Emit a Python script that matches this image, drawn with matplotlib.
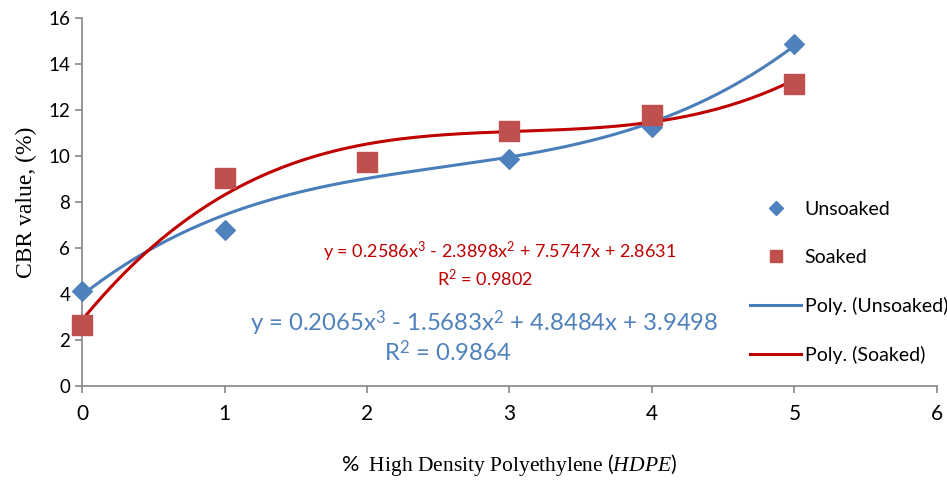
import numpy as np
import matplotlib
matplotlib.use("Agg")
import matplotlib.pyplot as plt
from matplotlib.lines import Line2D

# data
hdpe = [0, 1, 2, 3, 4, 5]
unsoaked = [4.13, 6.8, 9.75, 9.87, 11.25, 14.87]
soaked = [2.65, 9.05, 9.75, 11.1, 11.8, 13.15]

# trend-line coefficients as printed on the chart (x^3, x^2, x, 1)
poly_unsoaked = [0.2065, -1.5683, 4.8484, 3.9498]
poly_soaked = [0.2586, -2.3898, 7.5747, 2.8631]

eq_unsoaked = "y = 0.2065x$^3$ - 1.5683x$^2$ + 4.8484x + 3.9498"
r2_unsoaked = "R$^2$ = 0.9864"
eq_soaked = "y = 0.2586x$^3$ - 2.3898x$^2$ + 7.5747x + 2.8631"
r2_soaked = "R$^2$ = 0.9802"

plt.rcParams["mathtext.fontset"] = "custom"
plt.rcParams["mathtext.rm"] = "Lato"
plt.rcParams["mathtext.it"] = "Liberation Serif:italic"

sans = ["Lato", "DejaVu Sans"]
serif = ["Liberation Serif", "DejaVu Serif"]

blue_mk = "#4F81BD"
red_mk = "#C0504D"
blue_ln = "#4A7EBB"
red_ln = "#C00000"

fig = plt.figure(figsize=(9.47, 4.83), dpi=100)
ax = fig.add_axes([0.0866, 0.2008, 0.9028, 0.7619])

xs = np.linspace(0, 5, 200)
ax.plot(xs, np.polyval(poly_unsoaked, xs), color=blue_ln, lw=2.2, zorder=2)
ax.plot(xs, np.polyval(poly_soaked, xs), color=red_ln, lw=2.2, zorder=2)
ax.scatter(hdpe, unsoaked, marker="D", s=100, color=blue_mk, zorder=3, clip_on=False)
ax.scatter(hdpe, soaked, marker="s", s=220, color=red_mk, zorder=4, clip_on=False)

ax.set_xlim(0, 6)
ax.set_ylim(0, 16)
ax.set_xticks(range(0, 7))
ax.set_yticks(range(0, 17, 2))
for s in ["top", "right"]:
    ax.spines[s].set_visible(False)
for s in ["left", "bottom"]:
    ax.spines[s].set_color("#868686")
    ax.spines[s].set_linewidth(1.2)
ax.tick_params(colors="#868686", length=5, width=1.2)
for lab in ax.get_xticklabels():
    lab.set_fontfamily(sans)
    lab.set_fontsize(15)
    lab.set_color("black")
for lab in ax.get_yticklabels():
    lab.set_fontfamily(sans)
    lab.set_fontsize(13.5)
    lab.set_color("black")
ax.tick_params(axis="x", pad=8)

ax.set_ylabel("CBR value, (%)", family=serif, fontsize=17, labelpad=8)
ax.set_xlabel("$\\it{\\%}$  High Density Polyethylene $\\it{(HDPE)}$", family=serif,
              fontsize=15.5, labelpad=20)

ax.text(2.93, 5.82, eq_soaked, color=red_ln, family=sans, fontsize=13, ha="center", va="center")
ax.text(2.83, 4.68, r2_soaked, color=red_ln, family=sans, fontsize=13, ha="center", va="center")
ax.text(2.82, 2.74, eq_unsoaked, color=blue_mk, family=sans, fontsize=17.2, ha="center", va="center")
ax.text(2.57, 1.5, r2_unsoaked, color=blue_mk, family=sans, fontsize=17.2, ha="center", va="center")

handles = [
    Line2D([], [], ls="none", marker="D", color=blue_mk, markersize=7),
    Line2D([], [], ls="none", marker="s", color=red_mk, markersize=9),
    Line2D([], [], color=blue_ln, lw=2.2),
    Line2D([], [], color=red_ln, lw=2.2),
]
labels = ["Unsoaked", "Soaked", "Poly. (Unsoaked)", "Poly. (Soaked)"]
fig.legend(handles, labels, loc="center left", bbox_to_anchor=(0.782, 0.415),
           frameon=False, prop={"family": sans, "size": 14},
           labelspacing=1.6, handlelength=2.6, handletextpad=0.2, borderpad=0)

fig.savefig("out.png", dpi=100)
